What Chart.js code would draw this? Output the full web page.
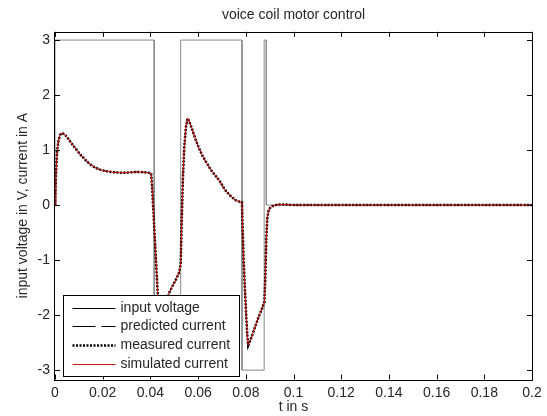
<!DOCTYPE html>
<html>
<head>
<meta charset="utf-8">
<title>voice coil motor control</title>
<script src="https://cdn.jsdelivr.net/npm/chart.js@4.4.1/dist/chart.umd.min.js"></script>
<style>
  html, body { margin: 0; padding: 0; background: #fff; }
</style>
</head>
<body>
<canvas id="grafico" width="547" height="416"></canvas>
<script>
// axis ticks (t in s, y in V / A)
const xTicks = [0, 0.02, 0.04, 0.06, 0.08, 0.1, 0.12, 0.14, 0.16, 0.18, 0.2];
const yTicks = [-3, -2, -1, 0, 1, 2, 3];

// input voltage, a step signal (every edge appears twice)
const voltageTime  = [0, 0, 0.0416, 0.0416, 0.0527, 0.0527, 0.0784, 0.0784, 0.0877, 0.0877, 0.0886, 0.0886, 0.2];
const voltageValue = [0, 3, 3, -3, -3, 3, 3, -3, -3, 3, 3, 0, 0];

// coil current: predicted, measured and simulated lie on top of each other
const currentTime = [
  0, 0.0004, 0.0009, 0.0015, 0.0022, 0.003, 0.0042, 0.0055, 0.0068, 0.0082,
  0.0097, 0.0112, 0.0128, 0.0145, 0.0165, 0.0185, 0.021, 0.024, 0.027, 0.030,
  0.033, 0.036, 0.039, 0.0403, 0.0407, 0.0418, 0.0430, 0.0440, 0.0450, 0.0465,
  0.0478, 0.0495, 0.0510, 0.0521, 0.0527, 0.0531, 0.0536, 0.0542, 0.0549, 0.0556,
  0.0563, 0.0575, 0.0588, 0.0602, 0.0618, 0.0635, 0.0652, 0.0670, 0.0690, 0.0712,
  0.0735, 0.0757, 0.0775, 0.0784, 0.0787, 0.0791, 0.0796, 0.0801, 0.0806, 0.0810,
  0.0815, 0.0825, 0.0840, 0.0855, 0.0868, 0.0878, 0.0882, 0.0886, 0.0890, 0.0895,
  0.0902, 0.0912, 0.0925, 0.094, 0.097, 0.1, 0.12, 0.14, 0.16, 0.18, 0.2
];
const predictedCurrent = [
  0, 0.55, 0.98, 1.18, 1.28, 1.31, 1.28, 1.21, 1.13, 1.05,
  0.97, 0.89, 0.82, 0.75, 0.69, 0.65, 0.62, 0.60, 0.59, 0.59,
  0.60, 0.60, 0.59, 0.58, 0.35, -0.55, -1.55, -2.05, -2.15, -1.85,
  -1.6, -1.45, -1.33, -1.22, -1.05, -0.35, 0.45, 1.05, 1.42, 1.58,
  1.52, 1.38, 1.21, 1.05, 0.90, 0.77, 0.65, 0.55, 0.44, 0.28,
  0.17, 0.09, 0.06, 0.05, -0.45, -1.0, -1.5, -1.95, -2.35, -2.55,
  -2.5, -2.39, -2.2, -2.02, -1.88, -1.76, -1.3, -0.6, -0.25, -0.11,
  -0.05, -0.02, 0, 0.01, 0.01, 0, 0, 0, 0, 0, 0
];
const measuredCurrent = predictedCurrent.slice();
const simulatedCurrent = predictedCurrent.slice();

const fontFamily = '"Liberation Sans", Arial, Helvetica, sans-serif';
const textColor = '#262626';

function pairs(xs, ys) {
  return xs.map((x, i) => ({ x: x, y: ys[i] }));
}

// box around the plot area with inward ticks on all four sides
const boxTicks = {
  id: 'boxTicks',
  afterDraw(chart) {
    const ctx = chart.ctx;
    const a = chart.chartArea;
    const sx = chart.scales.x, sy = chart.scales.y;
    const len = 5;
    ctx.save();
    ctx.strokeStyle = '#000';
    ctx.lineWidth = 1;
    ctx.beginPath();
    sx.ticks.forEach(t => {
      const px = Math.round(sx.getPixelForValue(t.value)) + 0.5;
      ctx.moveTo(px, a.bottom); ctx.lineTo(px, a.bottom - len);
      ctx.moveTo(px, a.top); ctx.lineTo(px, a.top + len);
    });
    sy.ticks.forEach(t => {
      const py = Math.round(sy.getPixelForValue(t.value)) + 0.5;
      ctx.moveTo(a.left, py); ctx.lineTo(a.left + len, py);
      ctx.moveTo(a.right, py); ctx.lineTo(a.right - len, py);
    });
    ctx.stroke();
    ctx.strokeRect(Math.round(a.left) - 0.5, Math.round(a.top) + 0.5,
                   Math.round(a.right - a.left) + 1, Math.round(a.bottom - a.top));
    ctx.restore();
  }
};

// legend box in the lower left corner of the plot area
const legendBox = {
  id: 'legendBox',
  afterDraw(chart) {
    const ctx = chart.ctx;
    const a = chart.chartArea;
    const x0 = Math.round(a.left + 8) + 0.5;
    const y0 = Math.round(a.bottom - 85) + 0.5;
    const w = 176, h = 81;
    ctx.save();
    ctx.fillStyle = '#fff';
    ctx.fillRect(x0, y0, w, h);
    ctx.strokeStyle = '#000';
    ctx.lineWidth = 1;
    ctx.strokeRect(x0, y0, w, h);
    ctx.font = '14px ' + fontFamily;
    ctx.textBaseline = 'middle';
    ctx.textAlign = 'left';
    chart.data.datasets.forEach((ds, i) => {
      const y = Math.round(y0 + 12 + i * 18.9) + 0.5;
      ctx.save();
      ctx.strokeStyle = ds.legendColor || ds.borderColor;
      ctx.lineWidth = ds.borderWidth;
      ctx.setLineDash(ds.legendDash || ds.borderDash || []);
      ctx.beginPath();
      ctx.moveTo(x0 + 9, y);
      ctx.lineTo(x0 + 52, y);
      ctx.stroke();
      ctx.restore();
      ctx.fillStyle = textColor;
      ctx.fillText(ds.label, x0 + 57, y);
    });
    ctx.restore();
  }
};

const ctx = document.getElementById('grafico').getContext('2d');
new Chart(ctx, {
  type: 'line',
  data: {
    datasets: [
      {
        label: 'input voltage',
        data: pairs(voltageTime, voltageValue),
        borderColor: '#8a8a8a',
        legendColor: '#000',
        borderWidth: 1,
        order: 4
      },
      {
        label: 'predicted current',
        data: pairs(currentTime, predictedCurrent),
        borderColor: '#000',
        borderWidth: 1,
        borderDash: [6, 4],
        legendDash: [23, 6],
        order: 3
      },
      {
        label: 'measured current',
        data: pairs(currentTime, measuredCurrent),
        borderColor: '#000',
        borderWidth: 2.5,
        borderDash: [2, 1.5],
        order: 2
      },
      {
        label: 'simulated current',
        data: pairs(currentTime, simulatedCurrent),
        borderColor: '#cc1414',
        borderWidth: 1,
        order: 1
      }
    ]
  },
  options: {
    responsive: false,
    animation: false,
    parsing: false,
    elements: { point: { radius: 0 }, line: { tension: 0, fill: false } },
    layout: { padding: { left: 0, right: 15, top: 0, bottom: 0 } },
    plugins: {
      legend: { display: false },
      tooltip: { enabled: false },
      title: {
        display: true,
        text: 'voice coil motor control',
        fullSize: false,
        color: textColor,
        font: { family: fontFamily, size: 14, weight: 'normal' },
        padding: { top: 7, bottom: 8 }
      }
    },
    scales: {
      x: {
        type: 'linear',
        min: 0,
        max: 0.2,
        afterBuildTicks: s => { s.ticks = xTicks.map(v => ({ value: v })); },
        afterFit: s => { s.height = 36.5; },
        grid: { display: false, drawTicks: false },
        border: { display: false },
        ticks: {
          autoSkip: false,
          maxRotation: 0,
          padding: 5,
          color: textColor,
          font: { family: fontFamily, size: 14 },
          callback: v => String(v)
        },
        title: {
          display: true,
          text: 't in s',
          color: textColor,
          font: { family: fontFamily, size: 14 },
          padding: { top: 0, bottom: 0.5 }
        }
      },
      y: {
        type: 'linear',
        min: -3.17,
        max: 3.15,
        afterBuildTicks: s => { s.ticks = yTicks.map(v => ({ value: v })); },
        afterFit: s => { s.width = 55; },
        grid: { display: false, drawTicks: false },
        border: { display: false },
        ticks: {
          padding: 5,
          color: textColor,
          font: { family: fontFamily, size: 14 },
          callback: v => String(v)
        },
        title: {
          display: true,
          text: 'input voltage in V, current in A',
          color: textColor,
          font: { family: fontFamily, size: 14 },
          padding: { top: 15, bottom: 0 }
        }
      }
    }
  },
  plugins: [boxTicks, legendBox]
});
</script>
</body>
</html>
